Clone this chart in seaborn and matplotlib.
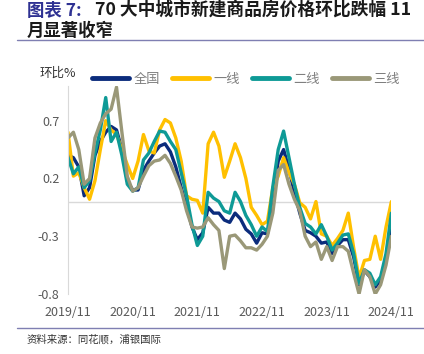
import numpy as np
import pandas as pd
import matplotlib
matplotlib.use("Agg")
import matplotlib.pyplot as plt
import seaborn as sns

# month-on-month change (%), monthly 2019/11 .. 2024/11
months = pd.period_range("2019-11", "2024-11", freq="M").strftime("%Y/%m").tolist()

national = [0.40, 0.38, 0.30, 0.05, 0.12, 0.40, 0.52, 0.60, 0.65, 0.62,
            0.45, 0.18, 0.10, 0.10, 0.27, 0.35, 0.42, 0.48, 0.50, 0.43,
            0.30, 0.12, -0.04, -0.22, -0.33, -0.27, -0.05, -0.10, -0.10, -0.16,
            -0.18, -0.10, -0.15, -0.24, -0.28, -0.36, -0.27, -0.28, 0.00, 0.35,
            0.45, 0.28, 0.08, -0.10, -0.25, -0.27, -0.30, -0.36, -0.35, -0.45,
            -0.38, -0.33, -0.33, -0.48, -0.72, -0.60, -0.65, -0.74, -0.68, -0.50,
            -0.20]
tier1 = [0.60, 0.22, 0.25, 0.12, 0.02, 0.18, 0.45, 0.70, 0.62, 0.58,
         0.45, 0.32, 0.20, 0.35, 0.58, 0.44, 0.42, 0.62, 0.71, 0.68,
         0.55, 0.35, 0.05, 0.02, 0.01, -0.10, 0.50, 0.60, 0.48, 0.21,
         0.35, 0.50, 0.38, 0.20, -0.05, -0.12, -0.20, -0.17, 0.12, 0.22,
         0.38, 0.25, 0.15, -0.01, -0.05, -0.15, 0.00, -0.28, -0.30, -0.38,
         -0.32, -0.25, -0.10, -0.40, -0.66, -0.51, -0.50, -0.30, -0.50, -0.22,
         0.00]
tier2 = [0.38, 0.24, 0.30, 0.12, 0.18, 0.42, 0.62, 0.90, 0.52, 0.60,
         0.40, 0.15, 0.09, 0.12, 0.36, 0.42, 0.52, 0.61, 0.60, 0.52,
         0.45, 0.25, 0.05, -0.20, -0.38, -0.30, 0.08, 0.03, 0.00, -0.08,
         -0.10, 0.08, 0.00, -0.12, -0.20, -0.30, -0.22, -0.26, 0.13, 0.45,
         0.61, 0.38, 0.15, -0.05, -0.19, -0.22, -0.28, -0.20, -0.30, -0.42,
         -0.36, -0.29, -0.28, -0.45, -0.71, -0.59, -0.62, -0.72, -0.65, -0.45,
         -0.10]
tier3 = [0.55, 0.60, 0.45, 0.15, 0.20, 0.55, 0.68, 0.76, 0.80, 0.99,
         0.60, 0.22, 0.09, 0.12, 0.22, 0.31, 0.35, 0.36, 0.40, 0.33,
         0.22, 0.10, -0.08, -0.22, -0.23, -0.22, -0.14, -0.20, -0.25, -0.58,
         -0.30, -0.29, -0.34, -0.40, -0.40, -0.42, -0.37, -0.30, -0.10, 0.27,
         0.32, 0.15, 0.02, -0.08, -0.30, -0.39, -0.35, -0.50, -0.39, -0.51,
         -0.39, -0.39, -0.43, -0.62, -0.80, -0.59, -0.65, -0.80, -0.72, -0.55,
         -0.30]

series_names = ["全国", "一线", "二线", "三线"]
colors = ["#0B2C7C", "#FFC000", "#0E9A96", "#9A9878"]
xtick_labels = ["2019/11", "2020/11", "2021/11", "2022/11", "2023/11", "2024/11"]
yticks = [0.7, 0.2, -0.3, -0.8]

df = pd.DataFrame({"idx": np.arange(len(months)), "月份": months,
                   "全国": national, "一线": tier1, "二线": tier2, "三线": tier3})
long_df = df.melt(id_vars=["idx", "月份"], value_vars=series_names,
                  var_name="系列", value_name="环比")

sns.set_style("white")
plt.rcParams["font.family"] = ["Noto Sans CJK SC", "DejaVu Sans"]

fig = plt.figure(figsize=(4.24, 3.54), dpi=100)
ax = fig.add_axes([68 / 424, 60 / 354, (391.4 - 68) / 424, 208 / 354])

sns.lineplot(data=long_df, x="idx", y="环比", hue="系列", hue_order=series_names,
             palette=dict(zip(series_names, colors)), linewidth=2.4,
             legend=False, ax=ax)
for line in ax.lines:
    line.set_solid_joinstyle("round")
    line.set_solid_capstyle("round")

ax.axhline(0, color="#D9D9D9", lw=1, zorder=0)
ax.set_xlim(0, 60)
ax.set_ylim(-0.8, 1.0)
ax.set_xticks(np.arange(0, 61, 12))
ax.set_xticklabels(xtick_labels)
ax.set_yticks(yticks)
ax.set_yticklabels([f"{v:.1f}" for v in yticks])
ax.tick_params(axis="both", length=0, labelsize=9, colors="#595959", pad=6)
ax.tick_params(axis="x", pad=9)
ax.set_xlabel("")
ax.set_ylabel("")
for side in ["top", "right", "bottom"]:
    ax.spines[side].set_visible(False)
ax.spines["left"].set_color("#D9D9D9")

# legend
handles = [plt.Line2D([], [], color=c, lw=3.5, solid_capstyle="round") for c in colors]
fig.legend(handles, series_names, loc="center", bbox_to_anchor=(246 / 424, 1 - 79 / 354),
           ncol=4, frameon=False, fontsize=9.5, handlelength=2.8, columnspacing=0.9,
           handletextpad=0.35, labelcolor="#7F7F7F")

fig.text(58 / 424, 1 - 73 / 354, "环比%", ha="center", va="center", fontsize=9, color="#333333")

# title
fig.text(27 / 424, 1 - 11 / 354, "图表 7:", ha="left", va="center", fontsize=12.5,
         fontweight="bold", color="#2E3192")
fig.text(95 / 424, 1 - 11 / 354, "70 大中城市新建商品房价格环比跌幅 11", ha="left",
         va="center", fontsize=12.8, fontweight="bold", color="#1A1A1A")
fig.text(27 / 424, 1 - 31 / 354, "月显著收窄", ha="left", va="center", fontsize=12.5,
         fontweight="bold", color="#1A1A1A")

fig.add_artist(plt.Line2D([17 / 424, 1], [1 - 40 / 354] * 2, color="#7F7FB2", lw=1))
fig.add_artist(plt.Line2D([17 / 424, 1], [1 - 328 / 354] * 2, color="#7F7FB2", lw=1))
fig.text(27 / 424, 1 - 339 / 354, "资料来源：同花顺，浦银国际", ha="left", va="center",
         fontsize=7.5, color="#333333")

fig.savefig("out.png", dpi=100)
